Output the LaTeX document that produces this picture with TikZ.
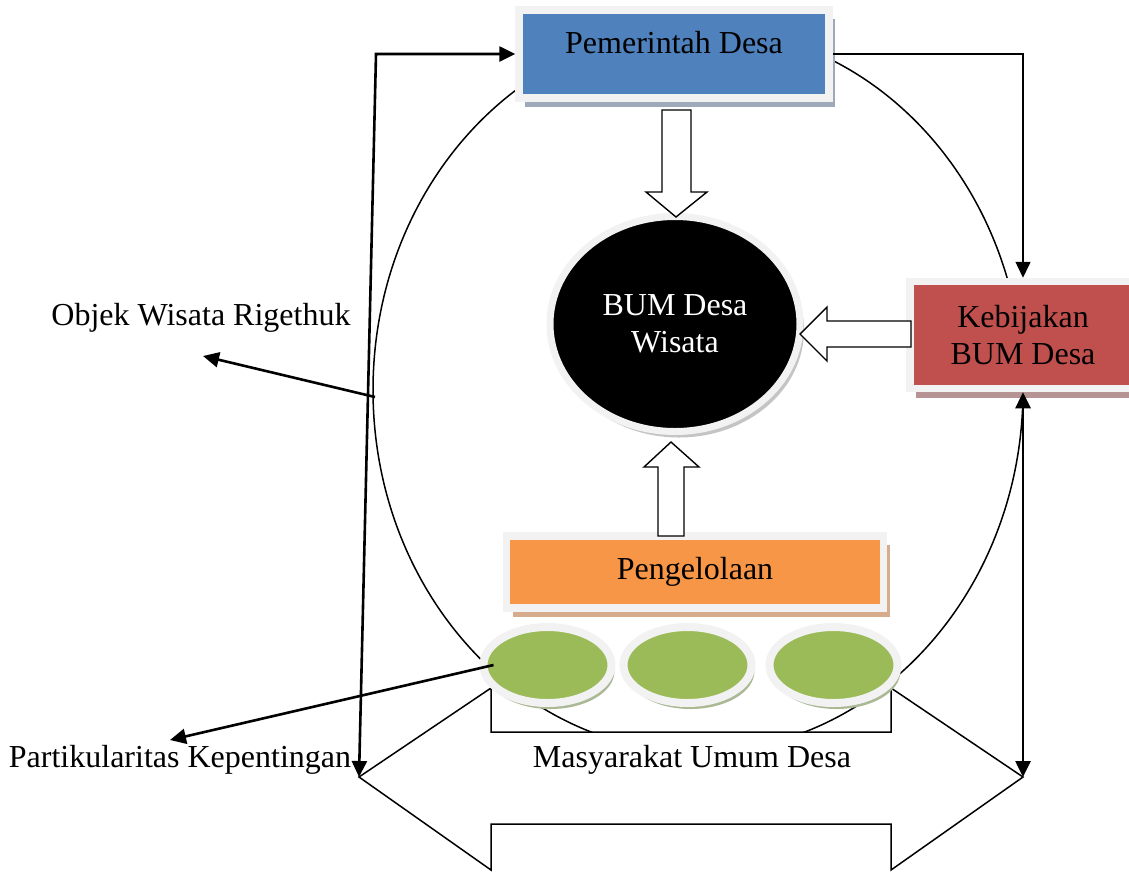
\documentclass[tikz,border=0pt]{standalone}
\usepackage{fontspec}
\setmainfont{Liberation Serif}
\usetikzlibrary{arrows.meta, positioning, shapes.geometric, shadows}
\definecolor{pemblue}{HTML}{4F81BD}
\definecolor{kebred}{HTML}{C0504D}
\definecolor{pengorange}{HTML}{F79646}
\definecolor{masgreen}{HTML}{9BBB59}
\definecolor{framegray}{HTML}{F2F2F2}
\definecolor{pemshadow}{HTML}{9EA9BA}
\definecolor{kebshadow}{HTML}{B69394}
\definecolor{pengshadow}{HTML}{D6AC8C}
\definecolor{masshadow}{HTML}{AAB894}
\definecolor{bumshadow}{HTML}{C4C4C4}
\tikzset{
	dbox/.style 2 args={draw=framegray, line width=7.5pt, fill=#1, inner sep=0pt, align=center,
		drop shadow={shadow xshift=6pt, shadow yshift=-9pt, fill=#2, opacity=1}},
	mell/.style={ellipse, draw=framegray, line width=8pt, fill=masgreen, inner sep=0pt,
		minimum width=128pt, minimum height=76pt,
		drop shadow={shadow xshift=3pt, shadow yshift=-6pt, fill=masshadow, opacity=1}},
	harr/.style={draw=black, fill=white, line width=1.4pt, line join=miter},
	thk/.style={line width=2.6pt},
	thn/.style={line width=1.5pt}
}
\begin{document}
\begin{tikzpicture}[x=1pt, y=-1pt, >={Triangle[length=16pt, width=15pt]},
	every node/.style={font=\fontsize{32}{37}\selectfont}]
	\useasboundingbox (0,0) rectangle (1129,871);
	\coordinate (ltip) at (359,777);
	\coordinate (rtip) at (1023,777);
	\draw[thn] (698,390) ellipse [x radius=325pt, y radius=362pt];
	\draw[thn, fill=white, line join=miter] (ltip) -- (491,688) -- (491,732) -- (891,732) -- (891,688)
		-- (rtip) -- (891,870) -- (891,824) -- (491,824) -- (491,870) -- cycle;
	\node[dbox={pemblue}{pemshadow}, minimum width=310pt, text height=43pt, text depth=45pt] (pem) at (674,54) {Pemerintah Desa};
	\node[dbox={kebred}{kebshadow}, minimum width=226pt, minimum height=107pt] (keb) at (1023,335) {Kebijakan\\BUM Desa};
	\node[dbox={pengorange}{pengshadow}, minimum width=377pt, minimum height=72pt] (peng) at (695,572) {Pengelolaan};
	\node[ellipse, fill=black, draw=framegray, line width=7pt, text=white, align=center, inner sep=0pt,
		minimum width=250pt, minimum height=215pt,
		drop shadow={shadow xshift=4pt, shadow yshift=-6pt, fill=bumshadow, opacity=1}] (bum) at (675,324) {BUM Desa\\ Wisata};
	\node[mell] (m1) at (547.5,665) {};
	\node[mell, right=4pt of m1] (m2) {};
	\node[mell, right=10pt of m2] (m3) {};
	\draw[harr] (662,110) -- (691,110) -- (691,192) -- (707,192) -- (676,217) -- (646,192) -- (662,192) -- cycle;
	\draw[harr] (911,321) -- (827,321) -- (827,307) -- (800,334) -- (827,361) -- (827,347) -- (911,347) -- cycle;
	\draw[harr] (658,536) -- (658,467) -- (644,467) -- (671,442) -- (699,467) -- (684,467) -- (684,536) -- cycle;
	\node[anchor=base] (objek) at (201,325) {Objek Wisata Rigethuk};
	\node[anchor=base] (part) at (180,767) {Partikularitas Kepentingan};
	\node[anchor=base] (masy) at (692,767) {Masyarakat Umum Desa};
	\coordinate (objstart) at (375,397);
	\coordinate (objend) at (203,356);
	\coordinate (partend) at (170,740);
	\draw[thk, <->] (ltip) -- (376,54) -- (pem.west);
	\draw[thn, ->] (pem.east) -| (keb.north);
	\draw[thk, <->] (keb.south) -- (rtip);
	\draw[thk, ->] (objstart) -- (objend);
	\draw[thk, ->] ([xshift=-54pt]m1.center) -- (partend);
\end{tikzpicture}
\end{document}
